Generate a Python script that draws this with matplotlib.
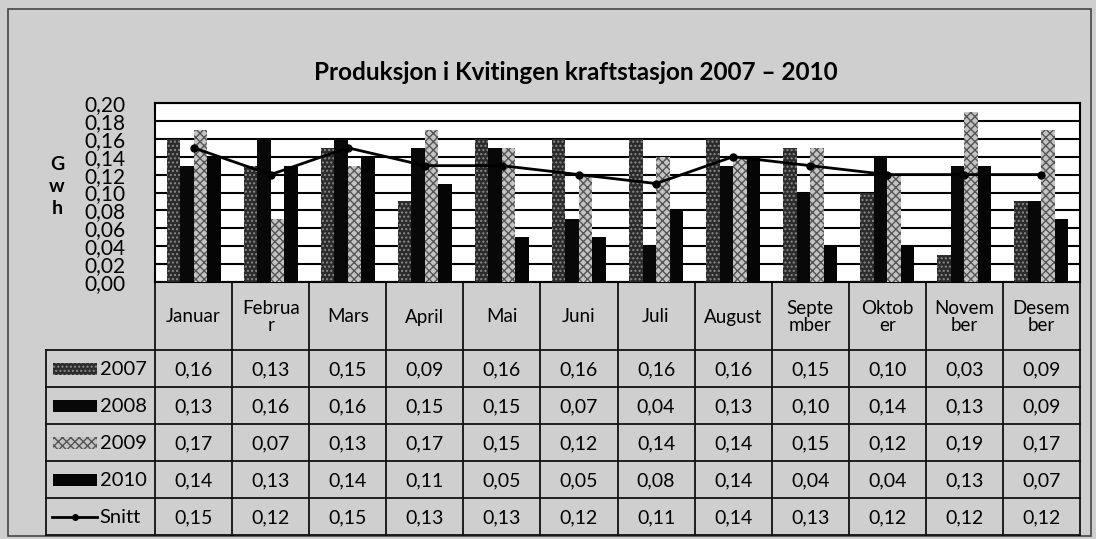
import numpy as np
import matplotlib
matplotlib.use("Agg")
import matplotlib.pyplot as plt
from matplotlib.patches import Rectangle

plt.rcParams["font.family"] = ["Lato", "DejaVu Sans"]

months = ["Januar", "Februa\nr", "Mars", "April", "Mai", "Juni", "Juli",
          "August", "Septe\nmber", "Oktob\ner", "Novem\nber", "Desem\nber"]
years = ["2007", "2008", "2009", "2010"]
v2007 = [0.16, 0.13, 0.15, 0.09, 0.16, 0.16, 0.16, 0.16, 0.15, 0.10, 0.03, 0.09]
v2008 = [0.13, 0.16, 0.16, 0.15, 0.15, 0.07, 0.04, 0.13, 0.10, 0.14, 0.13, 0.09]
v2009 = [0.17, 0.07, 0.13, 0.17, 0.15, 0.12, 0.14, 0.14, 0.15, 0.12, 0.19, 0.17]
v2010 = [0.14, 0.13, 0.14, 0.11, 0.05, 0.05, 0.08, 0.14, 0.04, 0.04, 0.13, 0.07]
snitt = [0.15, 0.12, 0.15, 0.13, 0.13, 0.12, 0.11, 0.14, 0.13, 0.12, 0.12, 0.12]
yticks = [0.00, 0.02, 0.04, 0.06, 0.08, 0.10, 0.12, 0.14, 0.16, 0.18, 0.20]

series = [v2007, v2008, v2009, v2010]
# (face, hatch, hatch colour) per year, imitating the scanned patterns
styles = [("#2b2b2b", "....", "#8a8a8a"),
          ("#080808", None, "#080808"),
          ("#c4c4c4", "xxxx", "#555555"),
          ("#050505", None, "#050505")]

W, H = 1096, 539
fig = plt.figure(figsize=(W / 100, H / 100), dpi=100, facecolor="#cfcfcf")

# pixel geometry of the chart and table
px_left, px_right = 155, 1080
px_top, px_bot = 103, 282
colw = (px_right - px_left) / len(months)


def fx(px):
    return px / W


def fy(py):
    return 1 - py / H


ax = fig.add_axes([fx(px_left), fy(px_bot), fx(px_right - px_left), (px_bot - px_top) / H])
ax.set_facecolor("white")
x = np.arange(len(months))
bw = 0.175
for i, vals in enumerate(series):
    face, hatch, hc = styles[i]
    ax.bar(x + (i - 1.5) * bw, vals, bw, color=face, hatch=hatch,
           edgecolor=hc, linewidth=0, zorder=3)
ax.plot(x, snitt, color="black", lw=2, marker="o", ms=5, zorder=4)
ax.set_xlim(-0.5, len(months) - 0.5)
ax.set_ylim(0, 0.20)
ax.set_yticks(yticks)
ax.set_yticklabels([f"{t:.2f}".replace(".", ",") for t in yticks], fontsize=15)
ax.tick_params(axis="y", length=0, pad=21)
ax.tick_params(axis="x", length=0, labelbottom=False)
ax.yaxis.grid(True, color="black", lw=1.5, zorder=0)
for s in ax.spines.values():
    s.set_color("black")
    s.set_linewidth(1.5)

# overlay in pixel coordinates for title, table and border
ov = fig.add_axes([0, 0, 1, 1], zorder=-1)
ov.set_xlim(0, W)
ov.set_ylim(H, 0)
ov.axis("off")

ov.add_patch(Rectangle((8, 9), 1083, 527, fill=False, ec="#444444", lw=1.2))
ov.text(576, 72, "Produksjon i Kvitingen kraftstasjon 2007 \u2013 2010",
        ha="center", va="center", fontsize=17.5, fontweight="bold")
for k, ch in enumerate("Gwh"):
    ov.text(57, 165 + k * 22, ch, ha="center", va="center", fontsize=14,
            fontweight="bold")

# table
head_top, head_bot = 282, 350
row_h = 37
lab_left = 46
n_rows = 5
tab_bot = head_bot + n_rows * row_h
lc = "#111111"
for j in range(len(months) + 1):
    xx = px_left + j * colw
    ov.plot([xx, xx], [head_top, tab_bot], color=lc, lw=1.3)
ov.plot([lab_left, lab_left], [head_bot, tab_bot], color=lc, lw=1.3)
ov.plot([px_left, px_right], [head_top, head_top], color=lc, lw=1.3)
for r in range(n_rows + 1):
    yy = head_bot + r * row_h
    ov.plot([lab_left, px_right], [yy, yy], color=lc, lw=1.3)

for j, m in enumerate(months):
    ov.text(px_left + (j + 0.5) * colw, (head_top + head_bot) / 2 + 1, m,
            ha="center", va="center", fontsize=13.5, linespacing=1.0)

rows = series + [snitt]
names = years + ["Snitt"]
for r, (name, vals) in enumerate(zip(names, rows)):
    yc = head_bot + (r + 0.5) * row_h
    for j, v in enumerate(vals):
        ov.text(px_left + (j + 0.5) * colw, yc + 1, f"{v:.2f}".replace(".", ","),
                ha="center", va="center", fontsize=14)
    if r < 4:
        face, hatch, hc = styles[r]
        ov.add_patch(Rectangle((53, yc - 6), 44, 12, facecolor=face, hatch=hatch,
                               edgecolor=hc, lw=0))
        ov.text(100, yc + 1, name, ha="left", va="center", fontsize=14.5)
    else:
        ov.plot([52, 97], [yc, yc], color="black", lw=2)
        ov.plot([75], [yc], marker="o", color="black", ms=4)
        ov.text(99, yc + 1, name, ha="left", va="center", fontsize=14.5)

fig.savefig("out.png", dpi=100, facecolor=fig.get_facecolor())
